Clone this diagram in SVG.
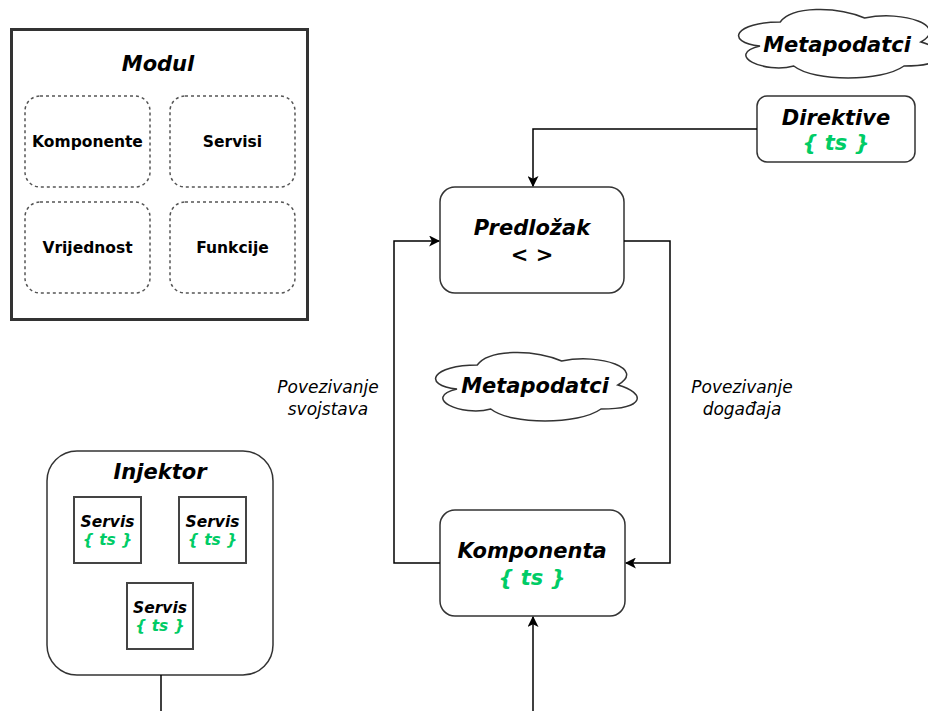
<svg xmlns="http://www.w3.org/2000/svg" width="928" height="711" viewBox="0 0 928 711">
<defs>
<style>
text{font-family:"DejaVu Sans","Verdana",sans-serif;text-anchor:middle;fill:#000}
.bi{font-weight:bold;font-style:italic}
.b{font-weight:bold}
.it{font-style:italic}
.big{font-size:21px}
.sm{font-size:15.5px}
.lbl{font-size:17px}
.g{fill:#00CC66}
.box{fill:#fff;stroke:#333;stroke-width:1.5}
.dash{fill:#fff;stroke:#555;stroke-width:1.5;stroke-dasharray:3 3}
.sv{fill:#fff;stroke:#444;stroke-width:2}
.cloud{fill:#fff;stroke:#333;stroke-width:1.5}
.conn{fill:none;stroke:#000;stroke-width:1.5}
</style>
<marker id="arr" markerWidth="11" markerHeight="11" viewBox="0 0 10 10" refX="9" refY="5" orient="auto" markerUnits="userSpaceOnUse">
<path d="M0,0 L10,5 L0,10 L2.5,5 Z" fill="#000"/>
</marker>
</defs>

<g id="modul">
<rect x="11.5" y="29.5" width="296" height="290" fill="#fff" stroke="#333" stroke-width="3"/>
<text x="158" y="71" class="bi big">Modul</text>
</g>
<g id="komponente">
<rect x="25" y="96" width="125" height="91" rx="15" class="dash"/>
<text x="87.5" y="147" class="b sm">Komponente</text>
</g>
<g id="servisi">
<rect x="170" y="96" width="125" height="91" rx="15" class="dash"/>
<text x="232.5" y="147" class="b sm">Servisi</text>
</g>
<g id="vrijednost">
<rect x="25" y="202" width="125" height="91" rx="15" class="dash"/>
<text x="87.5" y="253" class="b sm">Vrijednost</text>
</g>
<g id="funkcije">
<rect x="170" y="202" width="125" height="91" rx="15" class="dash"/>
<text x="232.5" y="253" class="b sm">Funkcije</text>
</g>

<g id="metapodatci-top">
<path class="cloud" d="M780.25,22 C735.25,22 724,42 760,46 C724,54.8 764.5,74 793.75,66 C814,82 881.5,82 904,66 C949,66 949,50 920.875,42 C949,26 904,10 864.625,18 C836.5,6 791.5,6 780.25,22 Z"/>
<text x="837" y="52" class="bi big">Metapodatci</text>
</g>

<g id="direktive">
<rect x="757" y="96" width="158" height="66" rx="10" class="box"/>
<text x="836" y="125" class="bi big">Direktive</text>
<text x="836" y="150" class="bi big g">{ ts }</text>
</g>

<g id="predlozak">
<rect x="440" y="187" width="184" height="106" rx="15" class="box"/>
<text x="532" y="235" class="bi big">Predložak</text>
<text x="532" y="262" class="b big">&lt; &gt;</text>
</g>

<g id="metapodatci-mid">
<path class="cloud" d="M477.25,365 C432.25,365 421,385 457,389 C421,397.8 461.5,417 490.75,409 C511,425 578.5,425 601,409 C646,409 646,393 617.875,385 C646,369 601,353 561.625,361 C533.5,349 488.5,349 477.25,365 Z"/>
<text x="535" y="393" class="bi big">Metapodatci</text>
</g>

<g id="komponenta">
<rect x="440" y="510" width="185" height="106" rx="15" class="box"/>
<text x="532" y="558" class="bi big">Komponenta</text>
<text x="532" y="585" class="bi big g">{ ts }</text>
</g>

<g id="injektor">
<rect x="47" y="451" width="226" height="224" rx="30" class="box"/>
<text x="160" y="479" class="bi big">Injektor</text>
</g>
<g id="servis1">
<rect x="74" y="497" width="67" height="66" class="sv"/>
<text x="107.5" y="527" class="bi sm">Servis</text>
<text x="107.5" y="545" class="bi sm g">{ ts }</text>
</g>
<g id="servis2">
<rect x="179" y="497" width="67" height="66" class="sv"/>
<text x="212.5" y="527" class="bi sm">Servis</text>
<text x="212.5" y="545" class="bi sm g">{ ts }</text>
</g>
<g id="servis3">
<rect x="127" y="583" width="66" height="66" class="sv"/>
<text x="160" y="613" class="bi sm">Servis</text>
<text x="160" y="631" class="bi sm g">{ ts }</text>
</g>

<g id="connectors">
<path class="conn" d="M757,129 L533,129 L533,186" marker-end="url(#arr)"/>
<path class="conn" d="M440,563 L394,563 L394,241 L439,241" marker-end="url(#arr)"/>
<path class="conn" d="M624,241 L670,241 L670,563 L626,563" marker-end="url(#arr)"/>
<path class="conn" d="M533,711 L533,617" marker-end="url(#arr)"/>
<path class="conn" d="M161,675 L161,711"/>
<text x="328" y="393" class="it lbl">Povezivanje</text>
<text x="328" y="415" class="it lbl">svojstava</text>
<text x="742" y="393" class="it lbl">Povezivanje</text>
<text x="742" y="415" class="it lbl">događaja</text>
</g>
</svg>
